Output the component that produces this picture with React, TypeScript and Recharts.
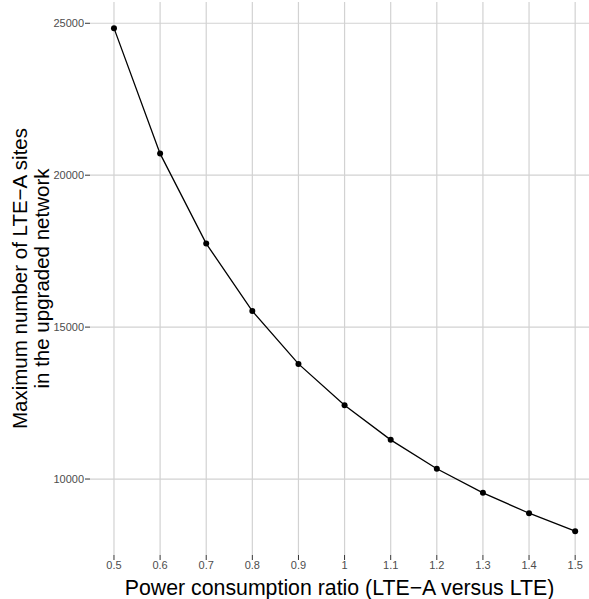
import { LineChart, Line, XAxis, YAxis, ReferenceLine, Label } from 'recharts';

// power consumption ratio (LTE-A versus LTE)
const ratios = [0.5, 0.6, 0.7, 0.8, 0.9, 1.0, 1.1, 1.2, 1.3, 1.4, 1.5];
// maximum number of LTE-A sites
const maxSites = [24840, 20710, 17750, 15530, 13790, 12430, 11290, 10340, 9545, 8875, 8285];

const xTicks = [0.5, 0.6, 0.7, 0.8, 0.9, 1.0, 1.1, 1.2, 1.3, 1.4, 1.5];
const yTicks = [10000, 15000, 20000, 25000];

const yTitle = ['Maximum number of LTE\u2212A sites', 'in the upgraded network'];
const xTitle = 'Power consumption ratio (LTE\u2212A versus LTE)';

const data = ratios.map((r, i) => ({ ratio: r, sites: maxSites[i] }));

const X_DOMAIN: [number, number] = [0.448, 1.53];
const Y_DOMAIN: [number, number] = [7500, 25700];

const FONT = 'Liberation Sans, Arial, sans-serif';
const GRID = '#d2d2d2';

function YTitle(props: any) {
  const { viewBox } = props;
  const cy = viewBox.y + viewBox.height / 2;
  return (
    <g>
      {yTitle.map((line, i) => (
        <text
          key={i}
          x={0}
          y={0}
          transform={`translate(${27 + i * 22}, ${cy}) rotate(-90)`}
          textAnchor="middle"
          fontFamily={FONT}
          fontSize={20.5}
          fill="#000"
        >
          {line}
        </text>
      ))}
    </g>
  );
}

export default function App() {
  return (
    <div style={{ position: 'absolute', left: 0, top: 0, background: '#fff' }}>
      <LineChart
        width={589}
        height={599}
        data={data}
        margin={{ top: 2, right: 0, left: 0, bottom: 0 }}
      >
        {/* grid only at the tick values */}
        {xTicks.map((t) => (
          <ReferenceLine key={'x' + t} x={t} stroke={GRID} strokeWidth={1.2} />
        ))}
        {yTicks.map((t) => (
          <ReferenceLine key={'y' + t} y={t} stroke={GRID} strokeWidth={1.2} />
        ))}
        <XAxis
          dataKey="ratio"
          type="number"
          domain={X_DOMAIN}
          ticks={xTicks}
          tickFormatter={(v: number) => (v === 1 ? '1' : String(v))}
          axisLine={false}
          tickSize={5}
          tickMargin={1}
          tickLine={{ stroke: '#333' }}
          tick={{ fill: '#4d4d4d', fontSize: 11, fontFamily: FONT }}
          height={44}
          interval={0}
          allowDataOverflow
        >
          <Label
            value={xTitle}
            position="insideBottom"
            offset={4}
            style={{ fontFamily: FONT, fontSize: 21.3, fill: '#000' }}
          />
        </XAxis>
        <YAxis
          type="number"
          domain={Y_DOMAIN}
          ticks={yTicks}
          axisLine={false}
          tickSize={5}
          tickMargin={1}
          tickLine={{ stroke: '#333' }}
          tick={{ fill: '#4d4d4d', fontSize: 11, fontFamily: FONT }}
          width={90}
          allowDataOverflow
        >
          <Label content={<YTitle />} />
        </YAxis>
        <Line
          dataKey="sites"
          stroke="#000"
          strokeWidth={1.3}
          dot={{ r: 3, fill: '#000', stroke: '#000', strokeWidth: 0 }}
          isAnimationActive={false}
        />
      </LineChart>
    </div>
  );
}
